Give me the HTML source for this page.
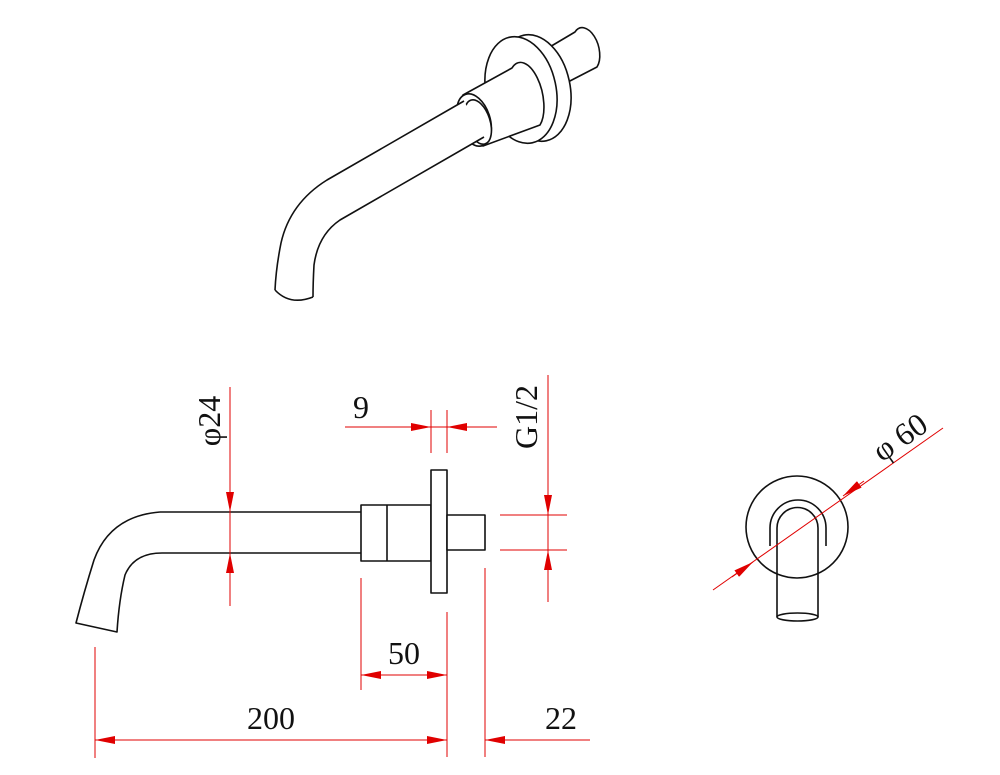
<!DOCTYPE html>
<html><head><meta charset="utf-8"><style>
html,body{margin:0;padding:0;background:#fff;}
svg{display:block;}
text{font-family:"Liberation Serif",serif;fill:#111;}
</style></head><body>
<svg width="1000" height="775" viewBox="0 0 1000 775" xmlns="http://www.w3.org/2000/svg">
<defs>
<marker id="ar" viewBox="0 0 20 8" refX="20" refY="4" markerWidth="20" markerHeight="8" markerUnits="userSpaceOnUse" orient="auto">
<path d="M0,0 L20,4 L0,8 Z" fill="#e00000"/>
</marker>
</defs>
<g fill="none" stroke="#111" stroke-width="1.6" stroke-linejoin="round">
<!-- ISO VIEW -->
<!-- stub -->
<path d="M548,48 L575,32 A11,19 -15 0 1 597,67 L566,83 Z" fill="#fff"/>
<!-- flange: back face then front face -->
<ellipse cx="535" cy="88" rx="35" ry="54" transform="rotate(-12 535 88)" fill="#fff"/>
<ellipse cx="521" cy="90" rx="35" ry="54" transform="rotate(-12 521 90)" fill="#fff"/>
<!-- collar -->
<path d="M463,95 L512,68 A15,31 -12 0 1 540,125 L483,146 Z" fill="#fff"/>
<ellipse cx="474" cy="120" rx="16" ry="27" transform="rotate(-18 474 120)" fill="#fff"/>
<ellipse cx="478" cy="122" rx="12" ry="23" transform="rotate(-18 478 122)" fill="#fff"/>
<!-- pipe -->
<path d="M464,101 L327,180 Q290,203 281,243 Q276,268 275,290 Q290,306 313,297 Q313,283 314,265 Q318,235 340,220 L484,137 Z" fill="#fff" stroke="none"/>
<path d="M464,101 L327,180 Q290,203 281,243 Q276,268 275,290"/>
<path d="M484,137 L340,220 Q318,235 314,265 Q313,283 313,297"/>
<path d="M275,290 Q290,306 313,297"/>

<!-- SIDE VIEW -->
<path d="M160,512 L361,512 M162,553 L361,553"/>
<path d="M160,512 Q110,516 94,560 Q84,592 76,623 L117,632 Q119,600 125,575 Q134,553 162,553"/>
<rect x="361" y="505" width="70" height="56" fill="#fff"/>
<line x1="387" y1="505" x2="387" y2="561"/>
<rect x="431" y="470" width="16" height="123" fill="#fff"/>
<rect x="447" y="515" width="38" height="35" fill="#fff"/>

<!-- FRONT VIEW -->
<circle cx="797" cy="527" r="51"/>
<path d="M770,546 L770,528 A28,28 0 0 1 826,528 L826,546"/>
<path d="M777,617 L777,528 A20.5,20.5 0 0 1 818,528 L818,617"/>
<ellipse cx="797.5" cy="617" rx="20.5" ry="4"/>
</g>

<g stroke="#e00000" stroke-width="1" fill="none">
<line x1="230" y1="387" x2="230" y2="606"/>
<line x1="230" y1="485" x2="230" y2="512" marker-end="url(#ar)"/>
<line x1="230" y1="580" x2="230" y2="553" marker-end="url(#ar)"/>
<line x1="345" y1="427" x2="497" y2="427"/>
<line x1="431" y1="410" x2="431" y2="453"/>
<line x1="447" y1="410" x2="447" y2="453"/>
<line x1="405" y1="427" x2="431" y2="427" marker-end="url(#ar)"/>
<line x1="473" y1="427" x2="447" y2="427" marker-end="url(#ar)"/>
<line x1="548" y1="375" x2="548" y2="602"/>
<line x1="500" y1="515" x2="567" y2="515"/>
<line x1="500" y1="550" x2="567" y2="550"/>
<line x1="548" y1="488" x2="548" y2="515" marker-end="url(#ar)"/>
<line x1="548" y1="577" x2="548" y2="550" marker-end="url(#ar)"/>
<line x1="361" y1="578" x2="361" y2="690"/>
<line x1="447" y1="612" x2="447" y2="757"/>
<line x1="361" y1="675" x2="447" y2="675"/>
<line x1="388" y1="675" x2="361" y2="675" marker-end="url(#ar)"/>
<line x1="420" y1="675" x2="447" y2="675" marker-end="url(#ar)"/>
<line x1="95" y1="647" x2="95" y2="758"/>
<line x1="95" y1="740" x2="447" y2="740"/>
<line x1="122" y1="740" x2="95" y2="740" marker-end="url(#ar)"/>
<line x1="420" y1="740" x2="447" y2="740" marker-end="url(#ar)"/>
<line x1="485" y1="568" x2="485" y2="757"/>
<line x1="485" y1="740" x2="590" y2="740"/>
<line x1="512" y1="740" x2="485" y2="740" marker-end="url(#ar)"/>
<line x1="713" y1="590" x2="943" y2="428"/>
<line x1="732" y1="577" x2="753" y2="562" marker-end="url(#ar)"/>
<line x1="864" y1="481" x2="843" y2="496" marker-end="url(#ar)"/>
</g>

<g font-size="32">
<text transform="translate(220,421) rotate(-90)" text-anchor="middle">φ24</text>
<text x="361" y="418" text-anchor="middle">9</text>
<text transform="translate(537,417) rotate(-90)" text-anchor="middle">G1/2</text>
<text x="404" y="664" text-anchor="middle">50</text>
<text x="271" y="729" text-anchor="middle">200</text>
<text x="561" y="729" text-anchor="middle">22</text>
<text transform="translate(906,446) rotate(-35)" text-anchor="middle">φ 60</text>
</g>
</svg>
</body></html>
